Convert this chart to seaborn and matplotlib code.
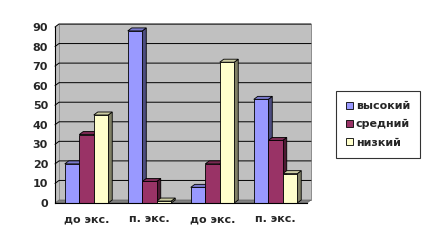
import matplotlib
matplotlib.use("Agg")
import matplotlib.pyplot as plt
import seaborn as sns
import pandas as pd
import numpy as np
from matplotlib.patches import Polygon, Patch
from matplotlib.lines import Line2D
from matplotlib.transforms import IdentityTransform

categories = ["до экс.", "п. экс.", "до экс.", "п. экс."]
levels = ["высокий", "средний", "низкий"]
vysokiy = [20, 88, 8, 53]
sredniy = [35, 11, 20, 32]
nizkiy = [45, 1, 72, 15]
yticks = [0, 10, 20, 30, 40, 50, 60, 70, 80, 90]

front_colors = ["#9999FF", "#993366", "#FFFFCC"]
side_colors = ["#4D4D80", "#4D1A33", "#808066"]
top_colors = ["#7A7ACC", "#7A2952", "#CCCCA3"]

sns.set_theme(style="white")
plt.rcParams["font.family"] = ["DejaVu Sans"]
plt.rcParams["font.weight"] = "bold"

rows = []
for i in range(len(categories)):
    for lev, vals in zip(levels, [vysokiy, sredniy, nizkiy]):
        rows.append({"grp": f"g{i}", "level": lev, "value": vals[i]})
df = pd.DataFrame(rows)

W, H = 432, 248
fig = plt.figure(figsize=(W / 100, H / 100), dpi=100)
fig.patch.set_facecolor("white")
ax = fig.add_axes([55 / W, 45 / H, 252 / W, 176 / H])

dx, dy = 4, 3  # depth in pixels

sns.barplot(data=df, x="grp", y="value", hue="level", hue_order=levels,
            palette=front_colors, width=0.69, edgecolor="black", linewidth=0.6,
            saturation=1, ax=ax, legend=False, zorder=3)
ax.set_facecolor((1, 1, 1, 0))
ax.patch.set_alpha(0)

ax.set_ylim(0, 90)
ax.set_xlim(-0.5, len(categories) - 0.5)
ax.autoscale(False)
fig.canvas.draw()
tD = ax.transData

def disp(x, y):
    return tD.transform((x, y))

x_left, x_right = ax.get_xlim()
p0 = disp(x_left, 0); p1 = disp(x_right, 0)
q0 = disp(x_left, 90); q1 = disp(x_right, 90)
ident = IdentityTransform()

wall = Polygon([(p0[0] + dx, p0[1] + dy), (p1[0] + dx, p1[1] + dy),
                (q1[0] + dx, q1[1] + dy), (q0[0] + dx, q0[1] + dy)],
               closed=True, transform=ident, facecolor="#C0C0C0",
               edgecolor="#808080", linewidth=0.6, zorder=1)
fig.add_artist(wall)
lwall = Polygon([p0, q0, (q0[0] + dx, q0[1] + dy), (p0[0] + dx, p0[1] + dy)],
                closed=True, transform=ident, facecolor="#C0C0C0",
                edgecolor="none", zorder=1)
fig.add_artist(lwall)
floor = Polygon([p0, p1, (p1[0] + dx, p1[1] + dy), (p0[0] + dx, p0[1] + dy)],
                closed=True, transform=ident, facecolor="#808080",
                edgecolor="#606060", linewidth=0.5, zorder=1.2)
fig.add_artist(floor)

for yv in yticks[1:]:
    a = disp(x_left, yv); b = disp(x_right, yv)
    fig.add_artist(Line2D([a[0], a[0] + dx, b[0] + dx], [a[1], a[1] + dy, b[1] + dy],
                          color="black", linewidth=0.7, transform=ident, zorder=1.1))

bars = list(ax.patches)
for k, p in enumerate(bars):
    hue_idx = k // len(categories)
    x0 = p.get_x(); w = p.get_width(); h = p.get_height()
    a = disp(x0, 0); b = disp(x0 + w, h)
    side = Polygon([(b[0], a[1]), (b[0] + dx, a[1] + dy), (b[0] + dx, b[1] + dy), (b[0], b[1])],
                   closed=True, transform=ident, facecolor=side_colors[hue_idx],
                   edgecolor="black", linewidth=0.6, zorder=2.5, clip_on=False)
    top = Polygon([(a[0], b[1]), (a[0] + dx, b[1] + dy), (b[0] + dx, b[1] + dy), (b[0], b[1])],
                  closed=True, transform=ident, facecolor=top_colors[hue_idx],
                  edgecolor="black", linewidth=0.6, zorder=2.5, clip_on=False)
    ax.add_artist(side)
    ax.add_artist(top)

ax.set_yticks(yticks)
ax.set_yticklabels([str(v) for v in yticks], fontsize=8, fontweight="bold")
ax.set_xticks(range(len(categories)))
ax.set_xticklabels(categories, fontsize=8, fontweight="bold")
ax.set_xticks(np.arange(-0.5, len(categories)), minor=True)
ax.tick_params(axis="x", which="major", length=0, pad=8)
ax.tick_params(axis="x", which="minor", length=4, width=0.8, color="black", direction="out")
ax.tick_params(axis="y", length=3, width=0.8, color="black", direction="out", pad=2)
ax.set_xlabel("")
ax.set_ylabel("")
ax.grid(False)
for s in ["top", "right"]:
    ax.spines[s].set_visible(False)
for s in ["left", "bottom"]:
    ax.spines[s].set_color("black")
    ax.spines[s].set_linewidth(0.8)
    ax.spines[s].set_zorder(4)
ax.set_zorder(2)

handles = [Patch(facecolor=c, edgecolor="black", linewidth=0.6) for c in front_colors]
leg = fig.legend(handles, levels, loc="upper left",
                 bbox_to_anchor=(336 / W, 1 - 91 / H), frameon=True, fancybox=False,
                 prop={"size": 8, "weight": "bold"}, handlelength=0.6, handleheight=0.6,
                 handletextpad=0.3, borderpad=0.9, labelspacing=0.75, borderaxespad=0)
leg.get_frame().set_edgecolor("black")
leg.get_frame().set_linewidth(0.8)

fig.savefig("out.png", dpi=100)
